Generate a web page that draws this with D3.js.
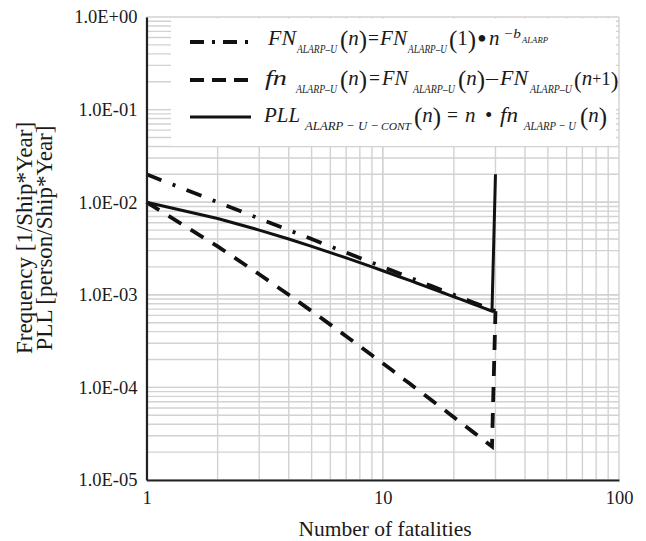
<!DOCTYPE html>
<html>
<head>
<meta charset="utf-8">
<script src="https://cdn.jsdelivr.net/npm/d3@7/dist/d3.min.js"></script>
<style>
  html, body { margin: 0; padding: 0; background: #fff; }
  svg { display: block; }
  text { font-family: "Liberation Serif", "Times New Roman", serif; fill: #1a1a1a; }
</style>
</head>
<body>
<svg id="chart" width="646" height="541"></svg>
<script>
// Number of fatalities n
const fatalities = [1,2,3,4,5,6,7,8,9,10,11,12,13,14,15,16,17,18,19,20,21,22,23,24,25,26,27,28,29,30];

// Cumulative frequency FN_ALARP-U(n)
const cumulativeFreq = [0.02,0.01,0.006667,0.005,0.004,0.003333,0.002857,0.0025,0.002222,0.002,
  0.001818,0.001667,0.001538,0.001429,0.001333,0.00125,0.001176,0.001111,0.001053,0.001,
  0.000952,0.000909,0.00087,0.000833,0.0008,0.000769,0.000741,0.000714,0.00069,0.000667];

// Frequency fn_ALARP-U(n)
const pointFreq = [0.01,0.003333,0.001667,0.001,0.000667,0.000476,0.000357,0.000278,0.000222,0.000182,
  0.000152,0.000128,0.00011,0.0000952,0.0000833,0.0000735,0.0000654,0.0000585,0.0000526,0.0000476,
  0.0000433,0.0000395,0.0000362,0.0000333,0.0000308,0.0000285,0.0000265,0.0000246,0.000023,0.000667];

// Potential loss of life contribution PLL_ALARP-U-CONT(n)
const pllContribution = [0.01,0.006667,0.005,0.004,0.003333,0.002857,0.0025,0.002222,0.002,0.001818,
  0.001667,0.001538,0.001429,0.001333,0.00125,0.001176,0.001111,0.001053,0.001,0.000952,
  0.000909,0.00087,0.000833,0.0008,0.000769,0.000741,0.000714,0.00069,0.000667,0.02];

const xTickValues = [1, 10, 100];
const xTickLabels = ["1", "10", "100"];
const yTickValues = [1e-5, 1e-4, 1e-3, 1e-2, 1e-1, 1];
const yTickLabels = ["1.0E-05", "1.0E-04", "1.0E-03", "1.0E-02", "1.0E-01", "1.0E+00"];

const svg = d3.select("#chart");
const plot = { left: 146.5, right: 619, top: 17, bottom: 480 };

const x = d3.scaleLog().domain([1, 100]).range([plot.left, plot.right]);
const y = d3.scaleLog().domain([1e-5, 1]).range([plot.bottom, plot.top]);

// Grid: every integer step within each decade
const xGrid = [];
for (let d = 1; d < 100; d *= 10) for (let k = 1; k <= 10; k++) xGrid.push(d * k);
const yGrid = [];
for (let d = 1e-5; d < 0.99; d *= 10) for (let k = 1; k <= 10; k++) yGrid.push(d * k);

const grid = svg.append("g").attr("stroke", "#d2d2d2").attr("stroke-width", 1.4);
grid.selectAll("line.gx").data(xGrid).join("line")
  .attr("x1", d => x(d)).attr("x2", d => x(d))
  .attr("y1", plot.top).attr("y2", plot.bottom);
grid.selectAll("line.gy").data(yGrid).join("line")
  .attr("x1", plot.left).attr("x2", plot.right)
  .attr("y1", d => y(d)).attr("y2", d => y(d));

// Legend panel sits over the upper grid
svg.append("rect")
  .attr("x", 171).attr("y", 18.5).attr("width", 445).attr("height", 127.5)
  .attr("fill", "#fff");

// Series
const line = d3.line().x((d, i) => x(fatalities[i])).y(d => y(d));

svg.append("path").datum(cumulativeFreq)
  .attr("d", line).attr("fill", "none").attr("stroke", "#111")
  .attr("stroke-width", 3.8).attr("stroke-dasharray", "16,12,3,12");

svg.append("path").datum(pointFreq)
  .attr("d", line).attr("fill", "none").attr("stroke", "#111")
  .attr("stroke-width", 3.8).attr("stroke-dasharray", "15,11");

svg.append("path").datum(pllContribution)
  .attr("d", line).attr("fill", "none").attr("stroke", "#111")
  .attr("stroke-width", 3);

// Axes
const xAxis = d3.axisBottom(x).tickValues(xTickValues)
  .tickFormat((d, i) => xTickLabels[i]).tickSize(0).tickPadding(11);
const gx = svg.append("g").attr("transform", `translate(0,${plot.bottom})`).call(xAxis);
gx.attr("font-family", null);
gx.select(".domain").attr("stroke", "#222").attr("stroke-width", 2.2);
gx.selectAll("text").attr("font-size", 18.5).attr("fill", "#1a1a1a");

const yAxis = d3.axisLeft(y).tickValues(yTickValues)
  .tickFormat((d, i) => yTickLabels[i]).tickSize(0).tickPadding(9);
const gy = svg.append("g").attr("transform", `translate(${plot.left},0)`).call(yAxis);
gy.attr("font-family", null);
gy.select(".domain").attr("stroke", "#222").attr("stroke-width", 2.2);
gy.selectAll("text").attr("font-size", 18.5).attr("fill", "#1a1a1a");

// Axis titles
svg.append("text")
  .attr("x", 385).attr("y", 536)
  .attr("text-anchor", "middle").attr("font-size", 21.5)
  .text("Number of fatalities");

const yt = svg.append("text")
  .attr("transform", "translate(32,238) rotate(-90)")
  .attr("text-anchor", "middle").attr("font-size", 23);
yt.append("tspan").attr("x", 0).attr("y", 0).text("Frequency [1/Ship*Year]");
yt.append("tspan").attr("x", 0).attr("y", 20).text("PLL [person/Ship*Year]");

// Legend
const legendRows = [
  { y: 42, dash: "14,8,3,8", width: 3.8 },
  { y: 80, dash: "14,8", width: 3.8 },
  { y: 117, dash: null, width: 3 }
];
legendRows.forEach(r => {
  svg.append("line")
    .attr("x1", 190).attr("x2", 251).attr("y1", r.y).attr("y2", r.y)
    .attr("stroke", "#111").attr("stroke-width", r.width)
    .attr("stroke-dasharray", r.dash);
});

// Formula typography: main symbols, subscripts, tall parentheses, superscripts
const styles = {
  m:  { size: 21, italic: true,  dy: 0 },
  r:  { size: 21, italic: false, dy: 0 },
  s:  { size: 12.5, italic: true, dy: 8 },
  c:  { size: 9.5, italic: true, dy: 8 },
  p:  { size: 25, italic: false, dy: 3 },
  q:  { size: 23, italic: false, dy: 3 },
  o:  { size: 21, italic: false, dy: 0 },
  pl: { size: 16, italic: false, dy: -1 },
  one:{ size: 19, italic: false, dy: 0 },
  b:  { size: 28, italic: false, dy: 3 },
  sp: { size: 13, italic: true,  dy: -7 },
  ss: { size: 9,  italic: true,  dy: -2 }
};

function formula(baseline, parts) {
  const t = svg.append("text").attr("y", baseline);
  parts.forEach(([txt, k, px, w]) => {
    const st = styles[k];
    const ts = t.append("tspan")
      .attr("y", baseline + st.dy)
      .attr("font-size", st.size)
      .attr("font-style", st.italic ? "italic" : "normal")
      .text(txt);
    if (px !== undefined) ts.attr("x", px);
    if (w !== undefined) ts.attr("textLength", w).attr("lengthAdjust", "spacingAndGlyphs");
  });
}

formula(45, [
  ["FN", "m", 268, 28], ["ALARP–U", "s", 297, 40],
  ["(", "p", 340], ["n", "m"], [")", "p"],
  ["=", "o", 368, 11],
  ["FN", "m", 380, 27], ["ALARP–U", "s", 408, 39],
  ["(", "p", 449], ["1", "r"], [")", "p"],
  ["•", "b", 477], ["n", "m", 489],
  ["−b", "sp", 503, 18], ["ALARP", "ss", 522, 26]
]);
formula(85, [
  ["fn", "m", 265, 22], ["ALARP–U", "s", 296, 41],
  ["(", "p", 340], ["n", "m"], [")", "p"],
  ["=", "o", 369, 11],
  ["FN", "m", 382, 26], ["ALARP–U", "s", 413, 42],
  ["(", "p", 458], ["n", "m"], [")", "p"],
  ["–", "o", 486, 12],
  ["FN", "m", 500, 28], ["ALARP–U", "s", 530, 42],
  ["(", "q", 574], ["n", "m"], ["+", "pl"], ["1", "one"], [")", "q"]
]);
formula(122, [
  ["PLL", "m", 264, 36], ["ALARP − U −", "s", 305, 74], ["CONT", "c", 381, 30],
  ["(", "p", 414], ["n", "m"], [")", "p"],
  ["=", "o", 447, 11], ["n", "m", 465], ["•", "o", 485],
  ["fn", "m", 500, 18], ["ALARP − U", "s", 524, 52],
  ["(", "p", 580], ["n", "m"], [")", "p"]
]);
</script>
</body>
</html>
